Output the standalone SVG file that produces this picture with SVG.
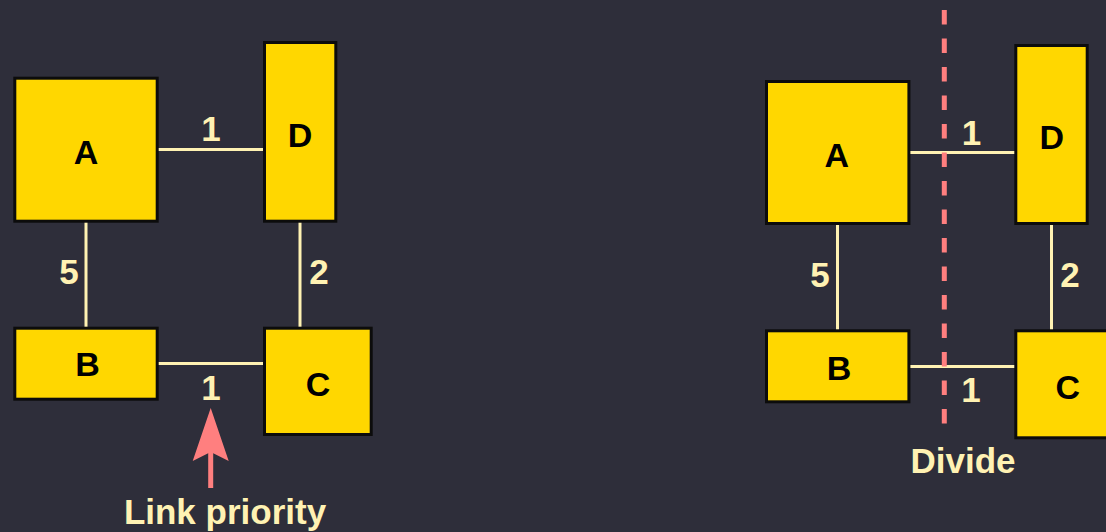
<svg xmlns="http://www.w3.org/2000/svg" width="1106" height="532" viewBox="0 0 1106 532">
  <defs>
    <style>
      .node { fill: #FFD700; stroke: #0c0c0c; stroke-width: 3; }
      .nlabel { font-family: "Liberation Sans", Arial, sans-serif; font-weight: bold; font-size: 34px; fill: #000; text-anchor: middle; }
      .link { stroke: #FFF2B3; stroke-width: 3; fill: none; }
      .elabel { font-family: "Liberation Sans", Arial, sans-serif; font-weight: bold; font-size: 35px; fill: #FFF2B3; text-anchor: middle; }
      .divide { stroke: #FF7F7F; stroke-width: 5; stroke-dasharray: 14.5 14; fill: none; }
    </style>
  </defs>
  <rect width="1106" height="532" fill="#2E2E3A"/>

  <!-- Left graph: links with priorities -->
  <g id="left-links">
    <line class="link" x1="158" y1="149.5" x2="264" y2="149.5"/>
    <line class="link" x1="86" y1="222" x2="86" y2="328"/>
    <line class="link" x1="300" y1="222" x2="300" y2="328"/>
    <line class="link" x1="158" y1="363.5" x2="264" y2="363.5"/>
    <text class="elabel" x="211" y="141">1</text>
    <text class="elabel" x="69" y="283.5">5</text>
    <text class="elabel" x="319" y="283.5">2</text>
    <text class="elabel" x="211" y="400">1</text>
  </g>
  <g id="left-A"><rect class="node" x="14.8" y="78.2" width="142.4" height="143"/><text class="nlabel" x="86" y="163.5">A</text></g>
  <g id="left-D"><rect class="node" x="264.5" y="42.5" width="71.3" height="178.7"/><text class="nlabel" x="300" y="146.7">D</text></g>
  <g id="left-B"><rect class="node" x="14.8" y="328.2" width="142.4" height="71"/><text class="nlabel" x="87.5" y="376">B</text></g>
  <g id="left-C"><rect class="node" x="264.5" y="328.2" width="106.7" height="106.3"/><text class="nlabel" x="318" y="396">C</text></g>

  <!-- Pointer to the lowest-priority link -->
  <g id="priority-pointer">
    <line x1="210.7" y1="488" x2="210.7" y2="450" stroke="#FF7F7F" stroke-width="5"/>
    <polygon points="210.7,408 228.7,461 210.7,452 192.7,461" fill="#FF7F7F"/>
    <text class="elabel" x="225" y="523.5">Link priority</text>
  </g>

  <!-- Right graph: same topology, split along the weak links -->
  <g id="right-links">
    <line class="link" x1="910" y1="152.5" x2="1016" y2="152.5"/>
    <line class="link" x1="837.5" y1="225" x2="837.5" y2="331"/>
    <line class="link" x1="1051.5" y1="225" x2="1051.5" y2="331"/>
    <line class="link" x1="910" y1="366.5" x2="1016" y2="366.5"/>
    <text class="elabel" x="971.5" y="145">1</text>
    <text class="elabel" x="820" y="286.7">5</text>
    <text class="elabel" x="1070" y="286.7">2</text>
    <text class="elabel" x="971" y="401.7">1</text>
  </g>
  <g id="right-A"><rect class="node" x="766.5" y="81.5" width="142.4" height="142"/><text class="nlabel" x="836.7" y="166.7">A</text></g>
  <g id="right-D"><rect class="node" x="1015.8" y="45.5" width="71.4" height="178"/><text class="nlabel" x="1051.7" y="148.5">D</text></g>
  <g id="right-B"><rect class="node" x="766.5" y="330.8" width="142.4" height="71"/><text class="nlabel" x="839" y="379.5">B</text></g>
  <g id="right-C"><rect class="node" x="1015.8" y="330.8" width="106.7" height="107"/><text class="nlabel" x="1067.7" y="398.5">C</text></g>

  <!-- Cut line -->
  <g id="divide">
    <line class="divide" x1="944.3" y1="10" x2="944.3" y2="423.5"/>
    <text class="elabel" x="963" y="473.3">Divide</text>
  </g>
</svg>
